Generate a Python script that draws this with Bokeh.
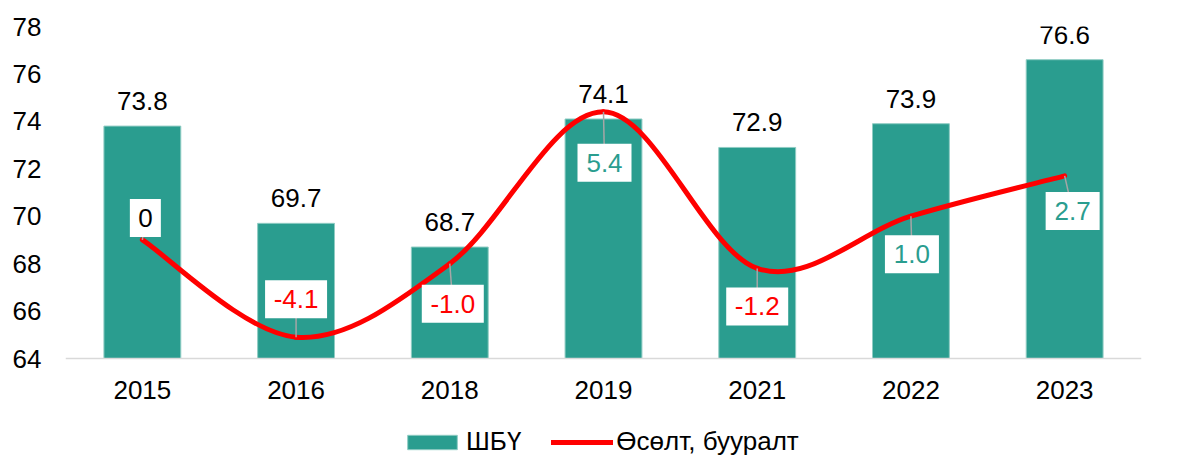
from bokeh.plotting import figure
from bokeh.models import (Range1d, LinearAxis, FixedTicker, ColumnDataSource,
                          Legend, LegendItem, Span)
from bokeh.core.properties import value
from bokeh.embed import file_html
from bokeh.resources import INLINE

# ---- data ----
years = ["2015", "2016", "2018", "2019", "2021", "2022", "2023"]
shbu = [73.8, 69.7, 68.7, 74.1, 72.9, 73.9, 76.6]
growth = [0, -4.1, -1.0, 5.4, -1.2, 1.0, 2.7]
growth_labels = ["0", "-4.1", "-1.0", "5.4", "-1.2", "1.0", "2.7"]
left_ticks = [64, 66, 68, 70, 72, 74, 76, 78]
right_ticks = [-5, -3, -1, 1, 3, 5, 7, 9]

# ---- style ----
FONT = "Liberation Sans"
FS = "26px"
TEAL = "#2A9D8F"
RED = "#FF0000"
W, H = 1187, 457
BORDER_L, BORDER_R, BORDER_T = 65, 46, 26
AXIS_H = 332                      # pixels between lowest and highest tick
BELOW = H - BORDER_T - AXIS_H     # room under the value axis for years + legend
FRAME_W = W - BORDER_L - BORDER_R
PX_X = FRAME_W / len(years)
PX_Y = AXIS_H / (right_ticks[-1] - right_ticks[0])
label_dx = [3, 0, 3, 1, 0, 1, 8]              # screen px, box centre from point
label_dy = [22, 38, -40, -51, -38, -38, -35]  # screen px (positive = up)
box_w = [31, 62, 62, 54, 62, 54, 54]          # screen px
BOX_H = 38


def label_color(v):
    if v > 0:
        return TEAL
    if v < 0:
        return RED
    return "black"


xs = [i + 0.5 for i in range(len(years))]
left_lo = left_ticks[0] - BELOW / PX_Y
right_lo = right_ticks[0] - BELOW / PX_Y

p = figure(width=W, height=H, x_range=Range1d(0, len(years)),
           y_range=Range1d(left_lo, left_ticks[-1]),
           output_backend="svg", toolbar_location=None,
           min_border_left=BORDER_L, min_border_right=BORDER_R,
           min_border_top=BORDER_T, min_border_bottom=0)
p.extra_y_ranges = {"right": Range1d(right_lo, right_ticks[-1])}
p.outline_line_color = None
p.xgrid.visible = False
p.ygrid.visible = False
p.xaxis.visible = False
p.background_fill_color = "white"
p.border_fill_color = "white"

rax = LinearAxis(y_range_name="right", ticker=FixedTicker(ticks=right_ticks))
p.add_layout(rax, "right")
p.yaxis.ticker = FixedTicker(ticks=left_ticks)
rax.major_label_overrides = {t: str(t) for t in right_ticks}
for ax in (p.yaxis[0], rax):
    ax.axis_line_color = None
    ax.major_tick_line_color = None
    ax.minor_tick_line_color = None
    ax.major_tick_out = 0
    ax.major_tick_in = 0
    ax.minor_tick_out = 0
    ax.minor_tick_in = 0
    ax.major_label_text_font = FONT
    ax.major_label_text_font_size = FS
    ax.major_label_text_color = "black"
p.yaxis[0].major_label_standoff = 24
rax.major_label_standoff = 13

# category axis: base line + year labels
p.add_layout(Span(location=left_ticks[0], dimension="width",
                  line_color="#D9D9D9", line_width=1.5))
p.text(x=xs, y=[left_ticks[0]] * len(xs), text=years, text_align="center",
       text_baseline="middle", y_offset=31, text_font=value(FONT),
       text_font_size=value(FS), text_color="black")

# bars
bar_src = ColumnDataSource(dict(x=xs, top=shbu, lbl=[f"{v:.1f}" for v in shbu]))
bars = p.vbar(x="x", top="top", bottom=left_ticks[0], width=0.5, source=bar_src,
              fill_color=TEAL, line_color="#8FCCC3", line_width=1)
p.text(x="x", y="top", text="lbl", source=bar_src, text_align="center",
       text_baseline="middle", y_offset=-25, text_font=value(FONT),
       text_font_size=value(FS), text_color="black")

# smoothed line (Catmull-Rom -> cubic Bezier)
n = len(growth)
x0, y0, x1, y1, cx0, cy0, cx1, cy1 = [], [], [], [], [], [], [], []
for i in range(n - 1):
    pm = i - 1 if i > 0 else i
    pp = i + 2 if i + 2 < n else i + 1
    x0.append(xs[i]); y0.append(growth[i])
    x1.append(xs[i + 1]); y1.append(growth[i + 1])
    cx0.append(xs[i] + (xs[i + 1] - xs[pm]) / 6)
    cy0.append(growth[i] + (growth[i + 1] - growth[pm]) / 6)
    cx1.append(xs[i + 1] - (xs[pp] - xs[i]) / 6)
    cy1.append(growth[i + 1] - (growth[pp] - growth[i]) / 6)
line = p.bezier(x0=x0, y0=y0, x1=x1, y1=y1, cx0=cx0, cy0=cy0, cx1=cx1, cy1=cy1,
                y_range_name="right", line_color=RED, line_width=5,
                line_cap="round")

# leader lines + boxed labels
bx = [x + dx / PX_X for x, dx in zip(xs, label_dx)]
by = [v + dy / PX_Y for v, dy in zip(growth, label_dy)]
p.segment(x0=xs, y0=growth, x1=bx, y1=by, y_range_name="right",
          line_color="#A6A6A6", line_width=1.5)
gsrc = ColumnDataSource(dict(x=bx, y=by, w=box_w, lbl=growth_labels,
                             col=[label_color(v) for v in growth]))
p.rect(x="x", y="y", width="w", height=BOX_H, width_units="screen",
       height_units="screen", source=gsrc, y_range_name="right",
       fill_color="white", line_color=None)
p.text(x="x", y="y", text="lbl", source=gsrc, y_range_name="right",
       text_align="center", text_baseline="middle", text_font=value(FONT),
       text_font_size=value(FS), text_color="col")

legend = Legend(items=[LegendItem(label="ШБҮ", renderers=[bars]),
                       LegendItem(label="Өсөлт, бууралт", renderers=[line])],
                orientation="horizontal", location=(336, 0),
                label_text_font=FONT, label_text_font_size=FS,
                label_text_color="black", glyph_width=62, glyph_height=18,
                label_standoff=3, spacing=30, padding=0, margin=0,
                background_fill_alpha=0, border_line_color=None)
p.add_layout(legend, "center")

open("out.html", "w").write(file_html(p, INLINE))
